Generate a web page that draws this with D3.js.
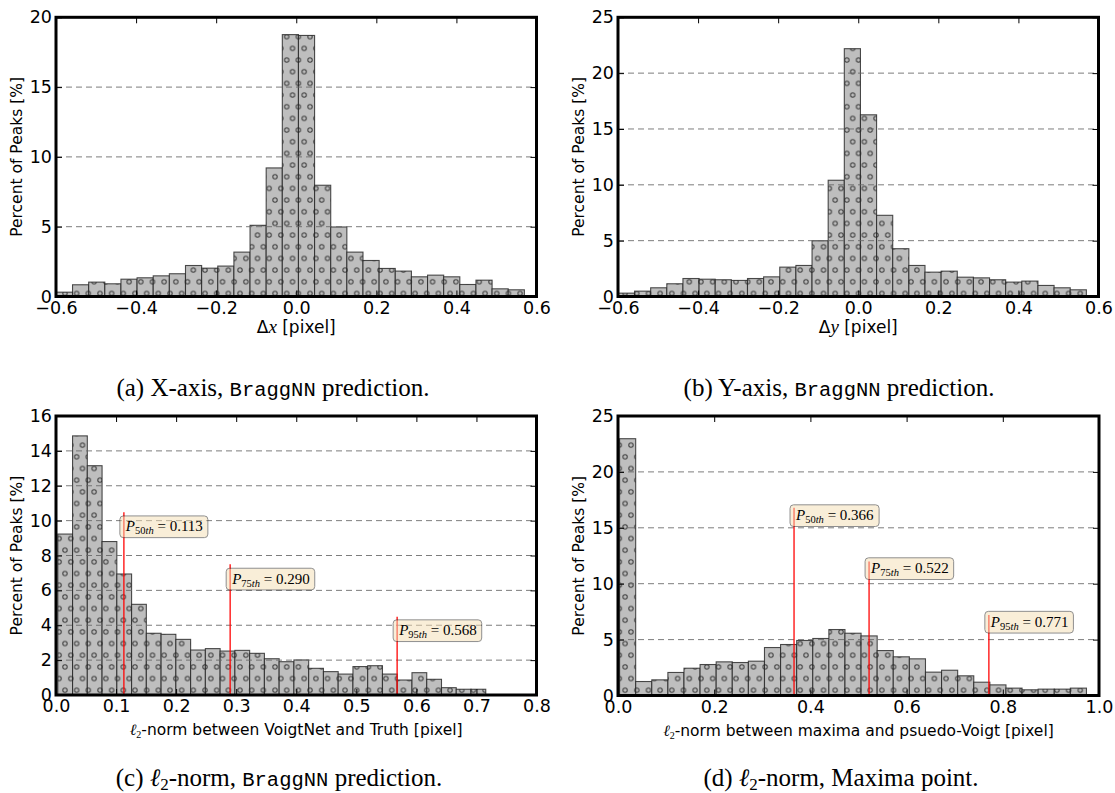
<!DOCTYPE html>
<html>
<head>
<meta charset="utf-8">
<script src="https://cdn.jsdelivr.net/npm/d3@7"></script>
<style>
  body { margin: 0; background: #fff; }
  svg { display: block; }
</style>
</head>
<body>
<div id="chart"></div>
<script>
// ---- data (percent of peaks per histogram bin) ----

// (a) x-axis error
var dxBinStart = -0.599
var dxBinWidth = 0.0403
var dxPercent = [0.31, 0.84, 1.03, 0.91, 1.24, 1.34, 1.48, 1.63, 2.22, 2.03, 2.18, 3.18, 5.10, 9.21, 18.76,
                 18.70, 7.97, 4.98, 3.18, 2.58, 2.01, 1.82, 1.41, 1.53, 1.41, 0.86, 1.17, 0.55, 0.48]

// (b) y-axis error
var dyBinStart = -0.599
var dyBinWidth = 0.0403
var dyPercent = [0.30, 0.48, 0.78, 1.14, 1.61, 1.55, 1.50, 1.44, 1.61, 1.76, 2.63, 2.78, 4.99, 10.41, 22.19,
                 16.27, 7.27, 4.28, 2.78, 2.18, 2.27, 1.73, 1.67, 1.50, 1.29, 1.38, 0.99, 0.78, 0.60]

// (c) l2-norm, BraggNN
var nnBinStart = 0.003
var nnBinWidth = 0.02457
var nnPercent = [9.23, 14.86, 13.15, 8.80, 6.94, 5.20, 3.54, 3.48, 3.19, 2.58, 2.66, 2.52, 2.56, 2.39, 2.08,
                 1.91, 2.01, 1.53, 1.34, 1.20, 1.63, 1.68, 1.20, 0.86, 1.28, 0.90, 0.42, 0.33, 0.33]
var nnMarks = [
    { rank: '50', value: 0.113, top: 10.48, labelY: 9.65 },
    { rank: '75', value: 0.290, top: 7.50, labelY: 6.65 },
    { rank: '95', value: 0.568, top: 4.49, labelY: 3.69 }
]

// (d) l2-norm, maxima point
var mxBinStart = 0.0033
var mxBinWidth = 0.03347
var mxPercent = [22.97, 1.25, 1.40, 2.06, 2.44, 2.77, 3.01, 2.95, 3.07, 4.29, 4.56, 4.92, 5.10, 5.90, 5.57,
                 5.33, 4.02, 3.46, 3.28, 2.09, 2.26, 1.76, 1.19, 0.95, 0.66, 0.51, 0.57, 0.57, 0.66]
var mxMarks = [
    { rank: '50', value: 0.366, top: 16.80, labelY: 16.09 },
    { rank: '75', value: 0.522, top: 11.98, labelY: 11.35 },
    { rank: '95', value: 0.771, top: 7.21, labelY: 6.56 }
]

// tick labels
var xTicksDelta = [-0.6, -0.4, -0.2, 0.0, 0.2, 0.4, 0.6]
var yTicksA = [0, 5, 10, 15, 20]
var yTicksB = [0, 5, 10, 15, 20, 25]
var xTicksC = [0.0, 0.1, 0.2, 0.3, 0.4, 0.5, 0.6, 0.7, 0.8]
var yTicksC = [0, 2, 4, 6, 8, 10, 12, 14, 16]
var xTicksD = [0.0, 0.2, 0.4, 0.6, 0.8, 1.0]
var yTicksD = [0, 5, 10, 15, 20, 25]

var SANS = '"DejaVu Sans", sans-serif'
var SERIF = '"Liberation Serif", "DejaVu Serif", serif'
var MONO = '"Liberation Mono", "DejaVu Sans Mono", monospace'

var panels = [
    { left: 56, right: 536.5, top: 17.3, bottom: 296.5, xDomain: [-0.6, 0.6], yDomain: [0, 20],
      xTicks: xTicksDelta, yTicks: yTicksA, start: dxBinStart, binWidth: dxBinWidth, values: dxPercent,
      marks: [], xlabel: 'delta', sym: 'x', labelGap: 36.5, capX: 273, capY: 396, cap: 'a' },
    { left: 618, right: 1098.5, top: 17.3, bottom: 296.5, xDomain: [-0.6, 0.6], yDomain: [0, 25],
      xTicks: xTicksDelta, yTicks: yTicksB, start: dyBinStart, binWidth: dyBinWidth, values: dyPercent,
      marks: [], xlabel: 'delta', sym: 'y', labelGap: 36.5, capX: 839, capY: 396, cap: 'b' },
    { left: 56, right: 536.5, top: 416, bottom: 695, xDomain: [0, 0.8], yDomain: [0, 16],
      xTicks: xTicksC, yTicks: yTicksC, start: nnBinStart, binWidth: nnBinWidth, values: nnPercent,
      marks: nnMarks, xlabel: 'norm', text: '-norm between VoigtNet and Truth [pixel]', labelGap: 40,
      capX: 279, capY: 786, cap: 'c' },
    { left: 618, right: 1099, top: 416, bottom: 695.5, xDomain: [0, 1.0], yDomain: [0, 25],
      xTicks: xTicksD, yTicks: yTicksD, start: mxBinStart, binWidth: mxBinWidth, values: mxPercent,
      marks: mxMarks, xlabel: 'norm', text: '-norm between maxima and psuedo-Voigt [pixel]', labelGap: 40,
      capX: 841, capY: 786, cap: 'd' }
]

var svg = d3.select('#chart').append('svg')
    .attr('width', 1115)
    .attr('height', 793)
    .style('background', '#fff')

// 'o' hatch fill like matplotlib
var hw = 11.67
var pat = svg.append('defs').append('pattern')
    .attr('id', 'hatch')
    .attr('patternUnits', 'userSpaceOnUse')
    .attr('x', 6.62).attr('y', 13.37)
    .attr('width', hw).attr('height', hw * 2)
pat.append('rect').attr('width', hw).attr('height', hw * 2).attr('fill', '#bebebe')
var dots = [[0, 0], [hw, 0], [0, hw * 2], [hw, hw * 2], [hw / 2, hw]]
pat.selectAll('circle').data(dots).enter().append('circle')
    .attr('cx', d => d[0]).attr('cy', d => d[1]).attr('r', 2.2)
    .attr('fill', 'none').attr('stroke', '#3c3c3c').attr('stroke-width', 1)

function drawPanel(p) {
    var x = d3.scaleLinear().domain(p.xDomain).range([p.left, p.right])
    var y = d3.scaleLinear().domain(p.yDomain).range([p.bottom, p.top])
    var g = svg.append('g')

    // bars
    g.selectAll('rect.bar')
        .data(p.values)
        .enter()
        .append('rect')
        .attr('class', 'bar')
        .attr('x', (d, i) => x(p.start + i * p.binWidth))
        .attr('width', x(p.start + p.binWidth) - x(p.start))
        .attr('y', d => y(d))
        .attr('height', d => y(0) - y(d))
        .attr('fill', 'url(#hatch)')
        .attr('stroke', '#222')
        .attr('stroke-opacity', 0.8)
        .attr('stroke-width', 1.1)

    // dashed grid on top of the bars
    g.selectAll('line.grid')
        .data(p.yTicks.slice(1, -1))
        .enter()
        .append('line')
        .attr('x1', p.left).attr('x2', p.right)
        .attr('y1', d => y(d)).attr('y2', d => y(d))
        .attr('stroke', '#666')
        .attr('stroke-opacity', 0.85)
        .attr('stroke-dasharray', '6,4')

    // percentile markers
    p.marks.forEach(function (m) {
        g.append('line')
            .attr('x1', x(m.value)).attr('x2', x(m.value))
            .attr('y1', y(0)).attr('y2', y(m.top))
            .attr('stroke', 'red')
            .attr('stroke-opacity', 0.8)
            .attr('stroke-width', 1.6)
        var lg = g.append('g')
        var box = lg.append('rect')
        var t = lg.append('text')
            .attr('x', x(m.value) + 2)
            .attr('y', y(m.labelY) + 4.5)
            .attr('font-family', SERIF)
            .attr('font-size', 15)
        t.append('tspan').attr('font-style', 'italic').text('P')
        t.append('tspan').attr('font-size', 10.5).attr('dy', 3).text(m.rank)
        t.append('tspan').attr('font-size', 10.5).attr('font-style', 'italic').text('th')
        t.append('tspan').attr('dy', -3).text(' = ' + m.value.toFixed(3))
        var bb = t.node().getBBox()
        box.attr('x', bb.x - 5).attr('width', bb.width + 10)
            .attr('y', y(m.labelY) - 10.8).attr('height', 21.7)
            .attr('rx', 3.5)
            .attr('fill', '#f5deb3')
            .attr('stroke', '#222')
            .attr('opacity', 0.5)
    })

    // frame
    g.append('rect')
        .attr('x', p.left).attr('y', p.top)
        .attr('width', p.right - p.left).attr('height', p.bottom - p.top)
        .attr('fill', 'none')
        .attr('stroke', '#000')
        .attr('stroke-width', 3)

    // axes, ticks pointing in
    var fmt = d3.format('.1f')
    var axes = [
        { ax: d3.axisBottom(x).tickValues(p.xTicks).tickFormat(fmt).tickPadding(5), tr: `translate(0,${p.bottom})` },
        { ax: d3.axisTop(x).tickValues(p.xTicks).tickFormat(''), tr: `translate(0,${p.top})` },
        { ax: d3.axisLeft(y).tickValues(p.yTicks).tickFormat(d3.format('d')).tickPadding(4), tr: `translate(${p.left},0)` },
        { ax: d3.axisRight(y).tickValues(p.yTicks).tickFormat(''), tr: `translate(${p.right},0)` }
    ]
    axes.forEach(function (a) {
        var ag = g.append('g')
            .attr('transform', a.tr)
            .call(a.ax.tickSizeInner(-6).tickSizeOuter(0))
        ag.select('.domain').remove()
        ag.selectAll('.tick line').attr('stroke', '#000').attr('stroke-width', 1)
        ag.attr('font-family', SANS).attr('font-size', 17.5)
        ag.selectAll('.tick text').attr('fill', '#000')
    })

    // y label
    var cy = (p.top + p.bottom) / 2
    g.append('text')
        .attr('transform', `translate(${p.left - 34.5},${cy}) rotate(-90)`)
        .attr('text-anchor', 'middle')
        .attr('font-family', SANS)
        .attr('font-size', 15.5)
        .text('Percent of Peaks [%]')

    // x label
    var xl = g.append('text')
        .attr('x', (p.left + p.right) / 2)
        .attr('y', p.bottom + p.labelGap)
        .attr('text-anchor', 'middle')
        .attr('font-family', SANS)
        .attr('font-size', 15.5)
    if (p.xlabel === 'delta') {
        xl.attr('font-size', 17)
        xl.append('tspan').text('Δ')
        xl.append('tspan').attr('font-family', SERIF).attr('font-style', 'italic').attr('font-size', 19).text(p.sym)
        xl.append('tspan').text(' [pixel]')
    } else {
        xl.append('tspan').attr('font-family', SERIF).attr('font-style', 'italic').text('ℓ')
        xl.append('tspan').attr('font-family', SERIF).attr('font-size', 10).attr('dy', 3).text('2')
        xl.append('tspan').attr('dy', -3).text(p.text)
    }

    // caption
    var cap = svg.append('text')
        .attr('x', p.capX)
        .attr('y', p.capY)
        .attr('text-anchor', 'middle')
        .attr('font-family', SERIF)
        .attr('font-size', 25)
    if (p.cap === 'a' || p.cap === 'b') {
        cap.append('tspan').text(p.cap === 'a' ? '(a) X-axis, ' : '(b) Y-axis, ')
        cap.append('tspan').attr('font-family', MONO).attr('font-size', 20.5).text('BraggNN')
        cap.append('tspan').text(' prediction.')
    } else {
        cap.append('tspan').text('(' + p.cap + ') ')
        cap.append('tspan').attr('font-style', 'italic').text('ℓ')
        cap.append('tspan').attr('font-size', 17).attr('dy', 4).text('2')
        if (p.cap === 'c') {
            cap.append('tspan').attr('dy', -4).text('-norm, ')
            cap.append('tspan').attr('font-family', MONO).attr('font-size', 20.5).text('BraggNN')
            cap.append('tspan').text(' prediction.')
        } else {
            cap.append('tspan').attr('dy', -4).text('-norm, Maxima point.')
        }
    }
}

panels.forEach(drawPanel)
</script>
</body>
</html>
